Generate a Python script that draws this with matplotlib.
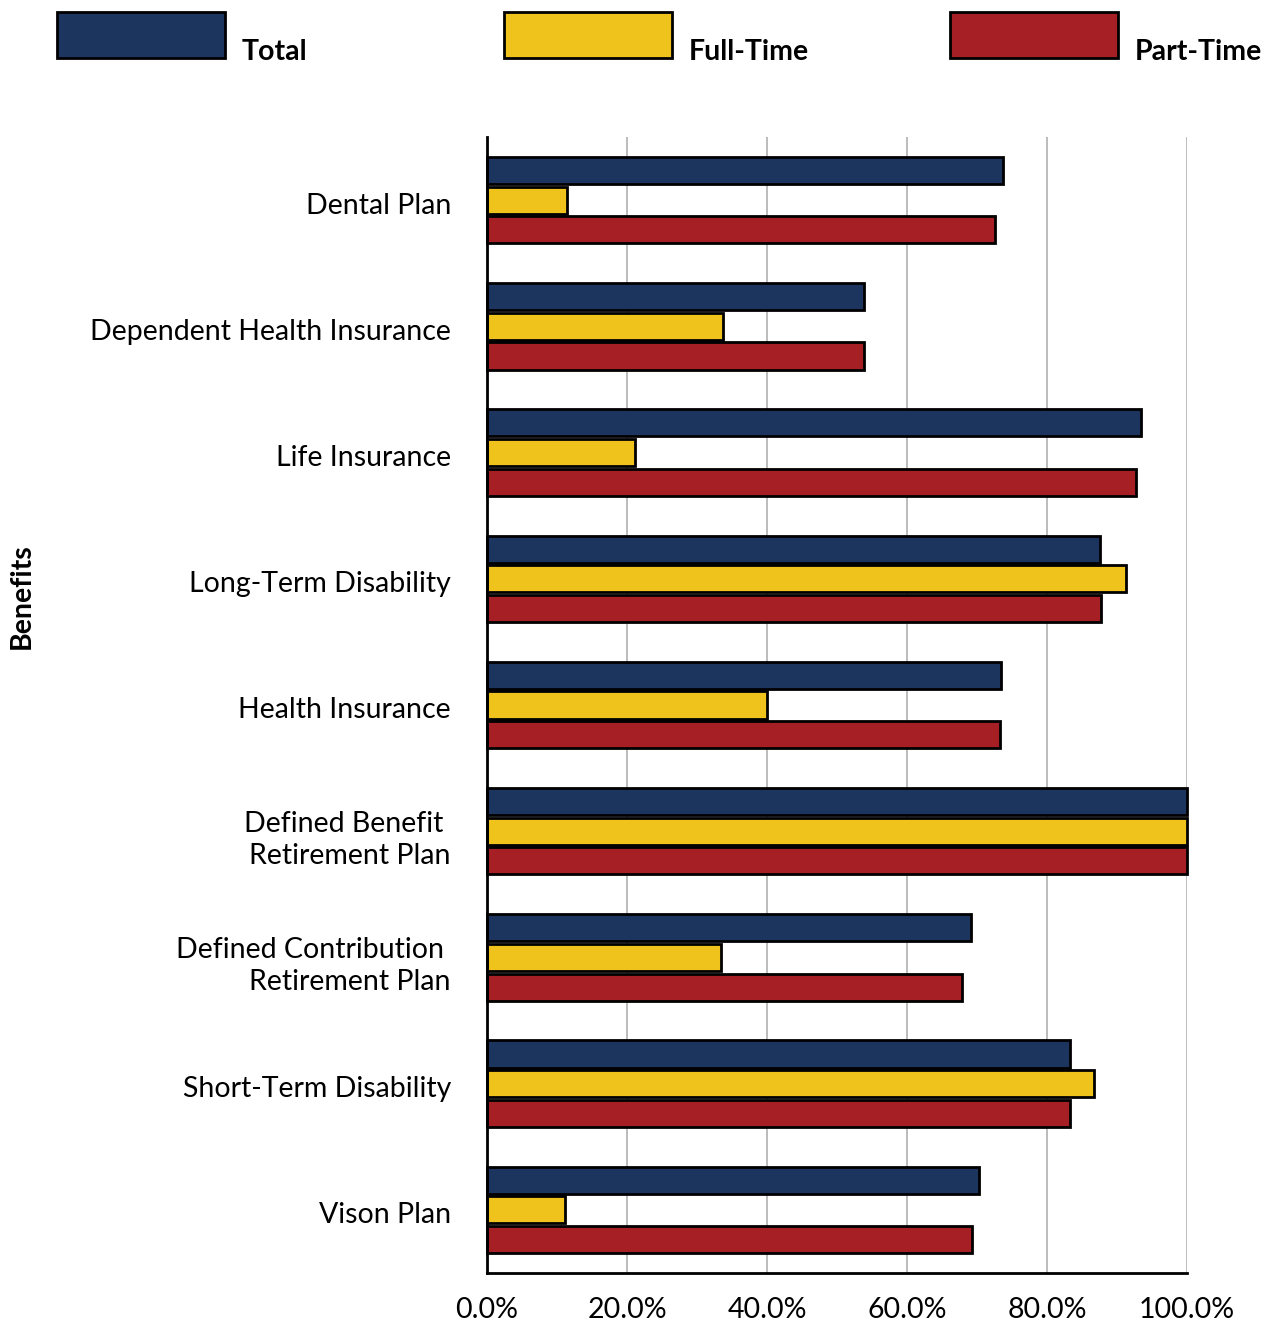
import matplotlib.pyplot as plt
from matplotlib.patches import Rectangle
import matplotlib.transforms as mtransforms
import numpy as np

plt.rcParams['font.family'] = ['Lato', 'DejaVu Sans']

benefits = ['Dental Plan', 'Dependent Health Insurance', 'Life Insurance',
            'Long-Term Disability', 'Health Insurance',
            'Defined Benefit \nRetirement Plan',
            'Defined Contribution \nRetirement Plan',
            'Short-Term Disability', 'Vison Plan']
total = [73.7, 53.8, 93.4, 87.6, 73.4, 100.0, 69.2, 83.3, 70.3]
full_time = [11.4, 33.7, 21.2, 91.3, 40.0, 100.0, 33.4, 86.7, 11.1]
part_time = [72.6, 53.8, 92.7, 87.7, 73.3, 100.0, 67.9, 83.3, 69.3]

series = ['Total', 'Full-Time', 'Part-Time']
colors = ['#1C355E', '#EFC31B', '#A61F24']

fig = plt.figure(figsize=(12.7, 13.21), dpi=100)
ax = fig.add_axes([487/1270, 1 - 1273/1321, 700/1270, 1136/1321])

y = np.arange(len(benefits))
h = 0.215
off = 0.235
for vals, c, d in zip([total, full_time, part_time], colors, [-off, 0, off]):
    ax.barh(y + d, vals, height=h, color=c, edgecolor='black', linewidth=2,
            zorder=3, clip_on=False)

ax.set_ylim(len(benefits) - 0.5, -0.5)
ax.set_xlim(0, 100)
ax.set_yticks(y)
ax.set_yticklabels(benefits, fontsize=20.5, ha='right', linespacing=1.3)
ax.set_xticks(np.arange(0, 101, 20))
ax.set_xticklabels([f'{v:.1f}%' for v in range(0, 101, 20)], fontsize=20.5)
ax.tick_params(axis='both', length=0)
ax.tick_params(axis='y', pad=26)
ax.tick_params(axis='x', pad=17)
# nudge category labels down a touch
shift = mtransforms.ScaledTranslation(0, -3/100, fig.dpi_scale_trans)
for lbl in ax.get_yticklabels():
    lbl.set_transform(lbl.get_transform() + shift)
ax.xaxis.grid(True, color='#B0B0B0', linewidth=1.2, zorder=0)
for s in ['top', 'right']:
    ax.spines[s].set_visible(False)
for s in ['left', 'bottom']:
    ax.spines[s].set_linewidth(2)
    ax.spines[s].set_zorder(4)

fig.text(22/1270, 1 - 596/1321, 'Benefits', rotation=90, fontsize=20.5,
         fontweight='bold', ha='center', va='center')

# legend across the top
for i, (name, c) in enumerate(zip(series, colors)):
    x0 = 57 + i * 446.5
    fig.add_artist(Rectangle((x0/1270, 1 - 58/1321), 168/1270, 46/1321,
                             transform=fig.transFigure, facecolor=c,
                             edgecolor='black', linewidth=2))
    fig.text((x0 + 185)/1270, 1 - 60/1321, name, fontsize=20.5,
             fontweight='bold', ha='left', va='baseline')

plt.savefig('out.png', dpi=100)
